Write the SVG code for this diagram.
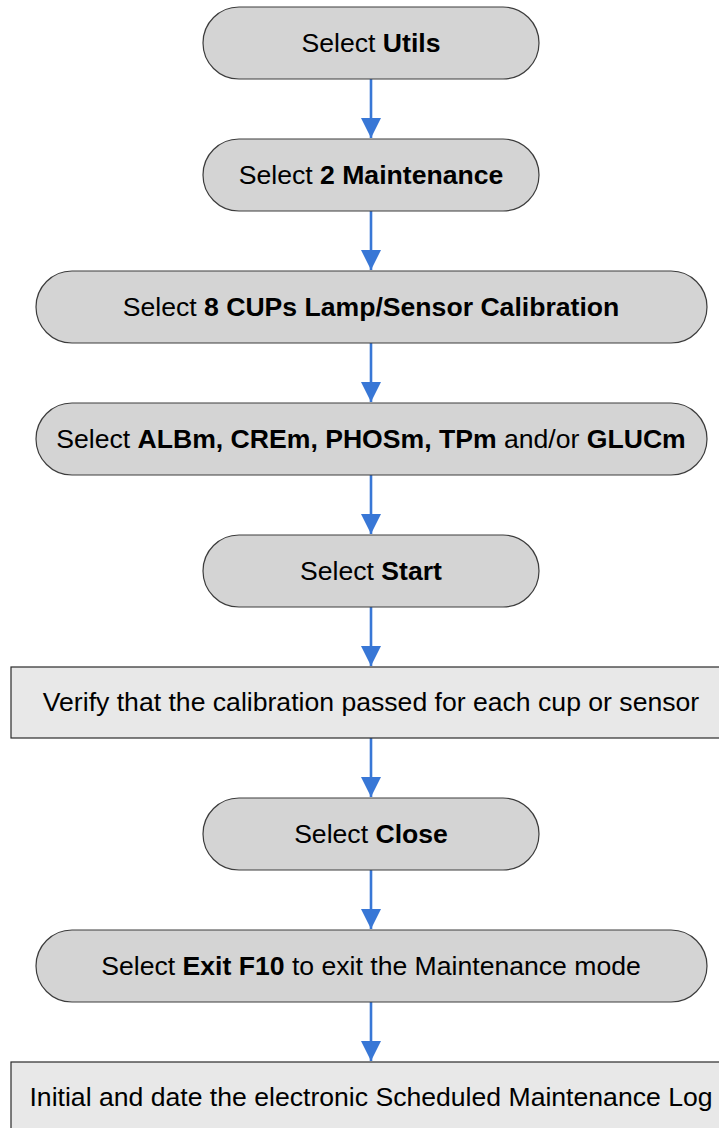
<svg xmlns="http://www.w3.org/2000/svg" width="719" height="1128" viewBox="0 0 719 1128">
<style>
.pill{fill:#d4d4d4;stroke:#3c3c3c;stroke-width:1.2}
.box{fill:#e8e8e8;stroke:#2a2a2a;stroke-width:1.2}
text{font-family:"Liberation Sans",Arial,sans-serif;font-size:26.6px;fill:#000;text-anchor:middle}
.b{font-weight:bold}
.conn{stroke:#3877d6;stroke-width:2.6;fill:none}
</style>
<defs>
<marker id="ah" markerUnits="userSpaceOnUse" markerWidth="22" markerHeight="22" viewBox="0 0 22 22" refX="20" refY="11" orient="auto">
<path d="M0,1 L20,11 L0,21 Z" fill="#3877d6"/>
</marker>
</defs>
<g id="connectors">
<path class="conn" d="M371,79 V138" marker-end="url(#ah)"/>
<path class="conn" d="M371,211 V270" marker-end="url(#ah)"/>
<path class="conn" d="M371,343 V402" marker-end="url(#ah)"/>
<path class="conn" d="M371,475 V534" marker-end="url(#ah)"/>
<path class="conn" d="M371,607 V666" marker-end="url(#ah)"/>
<path class="conn" d="M371,738 V797" marker-end="url(#ah)"/>
<path class="conn" d="M371,870 V929" marker-end="url(#ah)"/>
<path class="conn" d="M371,1002 V1061" marker-end="url(#ah)"/>
</g>
<g id="n1"><rect class="pill" x="203" y="7" width="336" height="72" rx="36"/><text x="371" y="52">Select <tspan class="b">Utils</tspan></text></g>
<g id="n2"><rect class="pill" x="203" y="139" width="336" height="72" rx="36"/><text x="371" y="184">Select <tspan class="b">2 Maintenance</tspan></text></g>
<g id="n3"><rect class="pill" x="36" y="271" width="671" height="72" rx="36"/><text x="371" y="316">Select <tspan class="b">8 CUPs Lamp/Sensor Calibration</tspan></text></g>
<g id="n4"><rect class="pill" x="36" y="403" width="671" height="72" rx="36"/><text x="371" y="448">Select <tspan class="b">ALBm, CREm, PHOSm, TPm</tspan> and/or <tspan class="b">GLUCm</tspan></text></g>
<g id="n5"><rect class="pill" x="203" y="535" width="336" height="72" rx="36"/><text x="371" y="580">Select <tspan class="b">Start</tspan></text></g>
<g id="n6"><rect class="box" x="11" y="667" width="720" height="71"/><text x="371" y="711">Verify that the calibration passed for each cup or sensor</text></g>
<g id="n7"><rect class="pill" x="203" y="798" width="336" height="72" rx="36"/><text x="371" y="843">Select <tspan class="b">Close</tspan></text></g>
<g id="n8"><rect class="pill" x="36" y="930" width="671" height="72" rx="36"/><text x="371" y="975">Select <tspan class="b">Exit F10</tspan> to exit the Maintenance mode</text></g>
<g id="n9"><rect class="box" x="11" y="1062" width="720" height="71"/><text x="371" y="1106">Initial and date the electronic Scheduled Maintenance Log</text></g>
</svg>
